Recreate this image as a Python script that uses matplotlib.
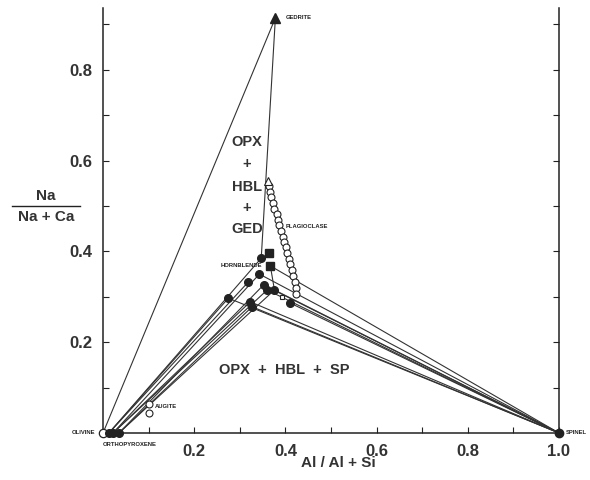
import matplotlib
matplotlib.use('Agg')
import matplotlib.pyplot as plt
from matplotlib.lines import Line2D

plt.rcParams['font.family'] = ['Liberation Sans', 'DejaVu Sans']

# ---------------- data ----------------
olivine_x, olivine_y = [0.0], [0.0]
opx_x = [0.013, 0.022, 0.035]
opx_y = [0.0, 0.0, 0.0]
spinel_x, spinel_y = [1.0], [0.0]
gedrite_x, gedrite_y = [0.378], [0.914]
augite_x = [0.100, 0.100]
augite_y = [0.064, 0.043]

plag_x = [0.363, 0.366, 0.369, 0.372, 0.376, 0.381, 0.384, 0.386, 0.390,
          0.394, 0.397, 0.401, 0.404, 0.407, 0.410, 0.414, 0.417, 0.422,
          0.424, 0.424]
plag_y = [0.543, 0.530, 0.519, 0.507, 0.494, 0.482, 0.469, 0.457, 0.445,
          0.432, 0.421, 0.409, 0.396, 0.384, 0.372, 0.359, 0.346, 0.333,
          0.320, 0.306]
plag_top_x, plag_top_y = [0.361], [0.556]

hbl_x = [0.363, 0.347, 0.367, 0.343, 0.319, 0.352, 0.360, 0.376, 0.275, 0.323, 0.327, 0.411]
hbl_y = [0.396, 0.385, 0.368, 0.350, 0.333, 0.326, 0.315, 0.315, 0.297, 0.289, 0.278, 0.286]
hbl_mk = ['s', 'o', 's', 'o', 'o', 'o', 'o', 'o', 'o', 'o', 'o', 'o']
hbl_opx = [None, 0, None, 1, 0, 2, 1, 2, 0, 1, 2, None]
hbl_sp = [False, False, True, True, False, True, True, True, True, True, True, True]
hbl_pair = [(2, 7)]
ged_links = [1]

odd_x, odd_y = [0.393], [0.300]

xticks = [0.1, 0.2, 0.3, 0.4, 0.5, 0.6, 0.7, 0.8, 0.9, 1.0]
xticklabels = ['', '0.2', '', '0.4', '', '0.6', '', '0.8', '', '1.0']
yticks = [0.1, 0.2, 0.3, 0.4, 0.5, 0.6, 0.7, 0.8, 0.9]
yticklabels = ['', '0.2', '', '0.4', '', '0.6', '', '0.8', '']

# ---------------- figure ----------------
W, H = 590, 480
fig = plt.figure(figsize=(W / 100, H / 100), dpi=100)
ax = fig.add_axes([103 / W, 47 / H, 456 / W, 425 / H])
ax.set_xlim(0, 1.0)
ax.set_ylim(0, 0.936)

LC = '#333333'
LW = 0.8

# tie lines
for i in range(len(hbl_x)):
    if hbl_opx[i] is not None:
        j = hbl_opx[i]
        ax.plot([opx_x[j], hbl_x[i]], [opx_y[j], hbl_y[i]], color=LC, lw=LW, zorder=2)
    if hbl_sp[i]:
        ax.plot([hbl_x[i], spinel_x[0]], [hbl_y[i], spinel_y[0]], color=LC, lw=LW, zorder=2)
for a, b in hbl_pair:
    ax.plot([hbl_x[a], hbl_x[b]], [hbl_y[a], hbl_y[b]], color=LC, lw=LW, zorder=2)
ax.plot([olivine_x[0], gedrite_x[0]], [olivine_y[0], gedrite_y[0]], color=LC, lw=LW, zorder=2)
for i in ged_links:
    ax.plot([gedrite_x[0], hbl_x[i]], [gedrite_y[0], hbl_y[i]], color=LC, lw=LW, zorder=2)

# markers
ax.plot(plag_x, plag_y, 'o', ms=5, mfc='white', mec='#222', mew=0.8, zorder=4)
ax.plot(plag_top_x, plag_top_y, '^', ms=6, mfc='white', mec='#222', mew=0.8, zorder=4)
for x, y, m in zip(hbl_x, hbl_y, hbl_mk):
    ax.plot([x], [y], m, ms=5.5, color='#222', zorder=5)
ax.plot(odd_x, odd_y, 's', ms=3, mfc='white', mec='#222', mew=0.8, zorder=5)
ax.plot(gedrite_x, gedrite_y, '^', ms=7, color='#222', zorder=5, clip_on=False)
ax.plot(olivine_x, olivine_y, 'o', ms=6, mfc='white', mec='#222', mew=0.9, zorder=6, clip_on=False)
ax.plot(opx_x, opx_y, 'o', ms=5.5, color='#222', zorder=6, clip_on=False)
ax.plot(spinel_x, spinel_y, 'o', ms=6, color='#222', zorder=6, clip_on=False)
ax.plot(augite_x, augite_y, 'o', ms=5, mfc='white', mec='#222', mew=0.8, zorder=5)

# spines / ticks
ax.spines['top'].set_visible(False)
for s in ['left', 'right', 'bottom']:
    ax.spines[s].set_linewidth(1.1)
    ax.spines[s].set_color('#222')
ax.set_xticks(xticks)
ax.set_xticklabels(xticklabels)
ax.set_yticks(yticks)
ax.set_yticklabels(yticklabels)
ax.tick_params(direction='in', length=4, width=0.8, labelsize=12, right=True,
               colors='#222', pad=8)
for lab in ax.get_xticklabels() + ax.get_yticklabels():
    lab.set_color('#333')
    lab.set_fontweight('bold')

# small labels
sfs = 4.2
kw = dict(fontsize=sfs, fontweight='bold', color='#222', va='center')
ax.text(0.400, 0.914, 'GEDRITE', ha='left', clip_on=False, **kw)
ax.text(0.400, 0.454, 'PLAGIOCLASE', ha='left', **kw)
ax.text(0.349, 0.368, 'HORNBLENDE', ha='right', **kw)
ax.text(0.114, 0.059, 'AUGITE', ha='left', **kw)
ax.text(-0.016, 0.0, 'OLIVINE', ha='right', clip_on=False, **kw)
ax.text(0.0, -0.025, 'ORTHOPYROXENE', ha='left', clip_on=False, **kw)
ax.text(1.014, 0.0, 'SPINEL', ha='left', clip_on=False, **kw)

# field labels
fkw = dict(fontsize=10.5, color='#333', ha='center', va='center', fontweight='bold')
for txt, py in zip(['OPX', '+', 'HBL', '+', 'GED'], [142, 164, 187, 208, 229]):
    fig.text(247 / W, 1 - py / H, txt, **fkw)
fig.text(284 / W, 1 - 370 / H, 'OPX  +  HBL  +  SP', **fkw)

# axis labels
lkw = dict(fontsize=11, color='#333', ha='center', va='center', fontweight='bold')
fig.text(338 / W, 1 - 463 / H, 'Al / Al + Si', **lkw)
fig.text(46 / W, 1 - 196 / H, 'Na', **lkw)
fig.text(46 / W, 1 - 217 / H, 'Na + Ca', **lkw)
fig.add_artist(Line2D([12 / W, 80 / W], [1 - 206 / H, 1 - 206 / H],
                      transform=fig.transFigure, color='#222', lw=1.0))

fig.savefig('out.png', dpi=100, facecolor='white')
